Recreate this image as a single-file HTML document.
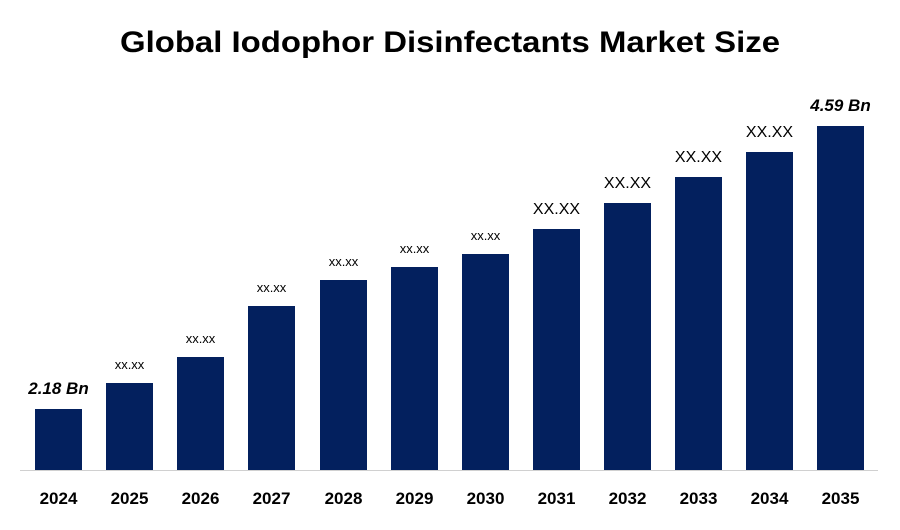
<!DOCTYPE html>
<html><head><meta charset="utf-8"><style>
body{margin:0;background:#fff;}
svg text{font-family:"Liberation Sans",Arial,sans-serif;}
</style></head><body>
<svg width="900" height="525" xmlns="http://www.w3.org/2000/svg">
<rect width="900" height="525" fill="#fff"/>
<text x="450" y="52" text-anchor="middle" font-size="30" font-weight="bold" fill="#000" textLength="660" lengthAdjust="spacingAndGlyphs">Global Iodophor Disinfectants Market  Size</text>
<g fill="#03205e">
<rect x="35" y="409" width="47" height="61"/>
<rect x="106" y="383" width="47" height="87"/>
<rect x="177" y="357" width="47" height="113"/>
<rect x="248" y="306" width="47" height="164"/>
<rect x="320" y="280" width="47" height="190"/>
<rect x="391" y="267" width="47" height="203"/>
<rect x="462" y="254" width="47" height="216"/>
<rect x="533" y="229" width="47" height="241"/>
<rect x="604" y="203" width="47" height="267"/>
<rect x="675" y="177" width="47" height="293"/>
<rect x="746" y="152" width="47" height="318"/>
<rect x="817" y="126" width="47" height="344"/>
</g>
<line x1="20" y1="470.5" x2="878" y2="470.5" stroke="#d0d0d0" stroke-width="1"/>
<g font-size="17" font-weight="bold" text-anchor="middle" fill="#000">
<text x="58.5" y="504">2024</text><text x="129.5" y="504">2025</text><text x="200.5" y="504">2026</text>
<text x="271.5" y="504">2027</text><text x="343.5" y="504">2028</text><text x="414.5" y="504">2029</text>
<text x="485.5" y="504">2030</text><text x="556.5" y="504">2031</text><text x="627.5" y="504">2032</text>
<text x="698.5" y="504">2033</text><text x="769.5" y="504">2034</text><text x="840.5" y="504">2035</text>
</g>
<g text-anchor="middle" fill="#000">
<text x="58.5" y="394" font-size="17" font-weight="bold" font-style="italic">2.18 Bn</text>
<text x="129.5" y="369" font-size="13">xx.xx</text>
<text x="200.5" y="343" font-size="13">xx.xx</text>
<text x="271.5" y="292" font-size="13">xx.xx</text>
<text x="343.5" y="266" font-size="13">xx.xx</text>
<text x="414.5" y="253" font-size="13">xx.xx</text>
<text x="485.5" y="240" font-size="13">xx.xx</text>
<text x="556.5" y="214" font-size="16">XX.XX</text>
<text x="627.5" y="188" font-size="16">XX.XX</text>
<text x="698.5" y="162" font-size="16">XX.XX</text>
<text x="769.5" y="137" font-size="16">XX.XX</text>
<text x="840.5" y="111" font-size="17" font-weight="bold" font-style="italic">4.59 Bn</text>
</g>
</svg>
</body></html>
